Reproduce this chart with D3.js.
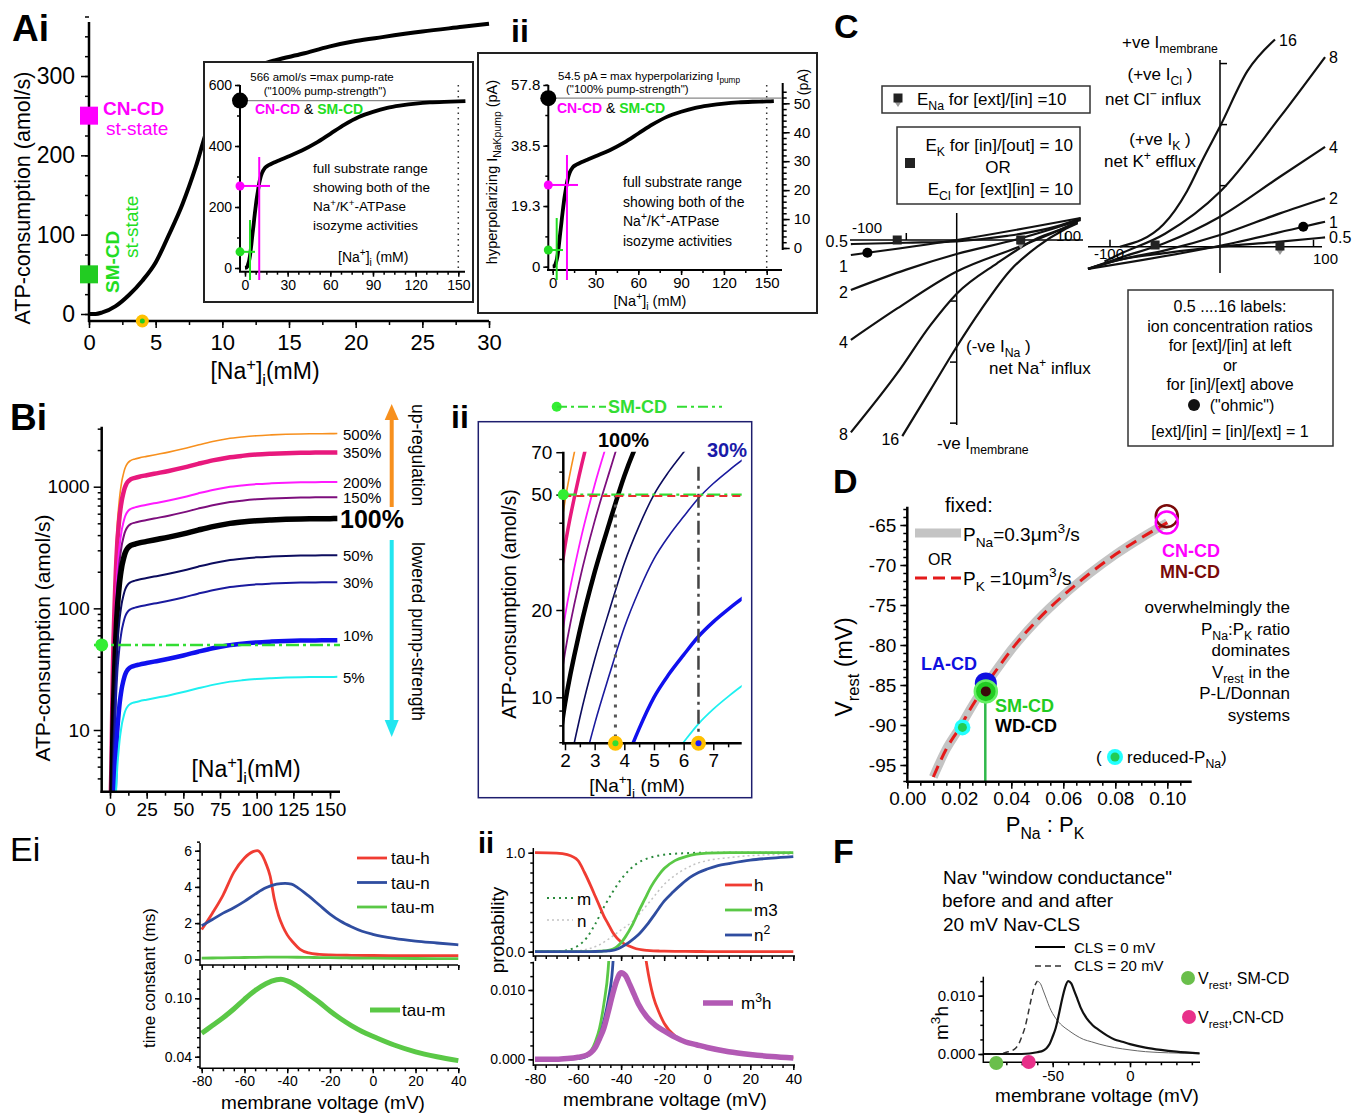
<!DOCTYPE html>
<html>
<head>
<meta charset="utf-8">
<title>Na/K pump figure</title>
<script src="https://cdn.jsdelivr.net/npm/d3@7"></script>
<style>
  body { margin: 0; background: #fff; }
  svg { font-family: "Liberation Sans", Arial, sans-serif; }
</style>
</head>
<body>
<svg id="fig" width="1355" height="1115"></svg>
<script>
// ---------- data ----------
// Ai: ATP consumption in the low [Na+]i range
const aiNa  = [0, 0.5, 1, 2, 3, 4, 5, 6, 7, 8, 9, 10, 11, 12, 13, 14, 16, 18, 20, 22, 25, 28, 30];
const aiATP = [0, 0, 2, 10, 24, 42, 65, 100, 138, 185, 240, 275, 296, 308, 315, 320, 328, 337, 344, 349, 356, 362, 366];
const aiTicksX = [0, 5, 10, 15, 20, 25, 30];
const aiTicksY = [0, 100, 200, 300];
const aiStateName = ["CN-CD", "SM-CD"];
const aiStateATP = [250, 50];
const aiOrangeNa = 4;

// full substrate range at 100 % pump strength (insets + B)
const naFull  = [0, 0.5, 1, 1.5, 2, 2.5, 3, 3.5, 4, 4.5, 5, 5.5, 6, 6.5, 7, 7.5, 8, 9, 10, 11, 12, 14, 17, 20, 25, 30, 40, 50, 60, 70, 80, 90, 100, 110, 120, 130, 140, 150, 155];
const atpFull = [0.5, 0.8, 1.5, 4, 9.5, 17, 27, 40, 58, 78, 100, 120, 140, 162, 182, 201, 220, 250, 278, 298, 312, 328, 338, 345, 355, 365, 385, 410, 440, 470, 495, 512, 525, 533, 539, 543, 545, 546, 547];
const pumpMaxAmol = 566, pumpMaxPa = 54.5;
const insetMaxATP = 549, insetMaxPa = 53.6;
const crossNa  = [10, 3.5];   // CN-CD, SM-CD (amol/s inset)
const crossATP = [269, 53];
const crossPaNa = [10, 2.8];  // (pA inset)
const crossPa   = [26, 5.3];

// B: pump strengths
const pumpPct      = [500, 350, 200, 150, 100, 50, 30, 10, 5];
const pumpColor    = ["#f7901e", "#e8197d", "#ff1aff", "#7d0e7d", "#000000", "#0c0c5e", "#1a1a9e", "#1010ee", "#1ef0f0"];
const pumpWidthBi  = [1.6, 4.5, 2, 2, 5.5, 2, 2, 4.5, 2];
const pumpWidthBii = [1.6, 3.5, 1.8, 1.8, 4.5, 1.6, 1.6, 3.5, 1.8];
const smcdATP = 50;
const biiMarkNa = [3.7, 6.5];

// C: I-V relations (mV, arbitrary current units)
const cRatio = ["0.5", "1", "2", "4", "8", "16"];
const cLeftV = [[-105, -50, 0, 50, 100, 123], [-105, 0, 123], [-105, -50, 0, 60, 123], [-105, -59, 0, 60, 106, 120], [-105, -59, -26, 0, 40, 80, 106, 120], [-54, -26, 0, 24, 53.5, 80, 106, 120]];
const cLeftI = [[-2.2, -1.5, -0.7, 2.2, 7.5, 11.7], [-8.1, 0, 11.9], [-27, -16, -7.6, 0.4, 10.8], [-54, -37, -17, -4, 6.3, 10], [-104, -72, -46, -29, -12.6, 0.9, 6.3, 9.5], [-106, -81, -57.7, -37.8, -16.2, -3.6, 5.4, 9]];
const cRightV = [[-120, -91, -50, 0, 50, 95.5], [-120, 0, 75.7, 95.5], [-120, -91, -50, 0, 54.5, 95.5], [-120, -91, -50, 0, 54.5, 95.5], [-105, -91, -50, 0, 54.5, 95.5], [-91, -51.5, -30, -15, 0, 25, 50]];
const cRightI = [[-12, -7, -3.5, 0, 2.5, 5], [-12, 0.5, 10.8, 13.5], [-12, -7, -2, 6.3, 18, 26.2], [-12, -6, 2, 16.2, 37.8, 54], [-8, -4, 7, 29.7, 70, 102.5], [0, 12, 30, 48, 65, 95, 112]];

// D: Vrest vs PNa:PK
const dRatio = [0.01, 0.015, 0.02, 0.025, 0.03, 0.035, 0.04, 0.05, 0.06, 0.07, 0.08, 0.09, 0.1];
const dVrest = [-96.5, -93, -90.4, -87.6, -85.1, -82.8, -80.6, -76.9, -73.8, -71.1, -68.7, -66.6, -64.7];
const dTicksY = [-95, -90, -85, -80, -75, -70, -65];
const dTicksX = [0, 0.02, 0.04, 0.06, 0.08, 0.10];

// Ei: time constants
const eV    = [-80, -75, -70, -65, -60, -56, -54, -52, -50, -48, -46, -44, -42, -40, -37, -34, -30, -25, -20, -10, 0, 20, 40];
const tauH  = [1.65, 2.55, 3.55, 4.8, 5.6, 5.95, 6.0, 5.8, 5.3, 4.6, 3.3, 2.4, 1.8, 1.35, 0.9, 0.55, 0.35, 0.27, 0.24, 0.22, 0.21, 0.2, 0.2];
const tauNV = [-80, -75, -70, -65, -60, -55, -50, -45, -41, -38, -35, -30, -25, -20, -15, -10, -5, 0, 10, 20, 30, 40];
const tauN  = [1.85, 2.2, 2.55, 2.85, 3.2, 3.6, 3.95, 4.15, 4.2, 4.15, 3.95, 3.5, 3.0, 2.5, 2.1, 1.8, 1.55, 1.38, 1.15, 1.0, 0.9, 0.8];
const tauMV = [-80, -75, -70, -65, -60, -55, -50, -45, -43, -40, -35, -30, -25, -20, -15, -10, -5, 0, 10, 20, 30, 40];
const tauM  = [0.064, 0.072, 0.08, 0.089, 0.099, 0.108, 0.115, 0.119, 0.1195, 0.118, 0.112, 0.104, 0.096, 0.087, 0.079, 0.072, 0.066, 0.061, 0.052, 0.045, 0.04, 0.036];

// Eii: gating probabilities
const hV  = [-80, -70, -65, -60, -57, -54, -52, -50, -48, -46, -44, -42, -40, -36, -33, -30, -28, -25, -22, -20, -15, -10, -5, 0, 10, 20, 30, 40];
const hP  = [1, 0.995, 0.98, 0.92, 0.8, 0.66, 0.56, 0.46, 0.36, 0.28, 0.2, 0.14, 0.1, 0.055, 0.03, 0.018, 0.0135, 0.009, 0.0065, 0.0052, 0.0034, 0.0026, 0.0021, 0.0017, 0.0011, 0.0007, 0.0004, 0.0002];
const m3V = [-80, -65, -60, -56, -54, -52, -50, -48, -46, -44, -42, -40, -38, -35, -32, -29, -26, -23, -20, -15, -10, -5, 0, 10, 40];
const m3P = [0, 0, 0.0002, 0.0006, 0.0012, 0.0025, 0.0045, 0.008, 0.013, 0.025, 0.05, 0.09, 0.15, 0.26, 0.4, 0.53, 0.66, 0.76, 0.84, 0.92, 0.96, 0.985, 0.995, 1, 1];
const n2V = [-80, -60, -56, -54, -52, -50, -48, -46, -44, -42, -40, -36, -32, -28, -24, -20, -16, -12, -8, -4, 0, 5, 10, 20, 30, 40];
const n2P = [0, 0.0001, 0.0004, 0.0009, 0.0018, 0.0032, 0.0055, 0.0085, 0.013, 0.025, 0.045, 0.1, 0.17, 0.27, 0.39, 0.51, 0.6, 0.68, 0.75, 0.8, 0.835, 0.87, 0.89, 0.925, 0.945, 0.96];
const mV  = [-80, -70, -65, -60, -56, -52, -48, -44, -40, -36, -32, -28, -24, -20, -10, 0, 40];
const mP  = [0, 0.003, 0.015, 0.06, 0.14, 0.28, 0.45, 0.6, 0.73, 0.83, 0.9, 0.94, 0.965, 0.98, 0.995, 1, 1];
const nV  = [-80, -60, -55, -50, -45, -40, -35, -30, -25, -20, -15, -10, -5, 0, 10, 20, 40];
const nP  = [0, 0.01, 0.03, 0.07, 0.14, 0.22, 0.3, 0.42, 0.55, 0.68, 0.77, 0.84, 0.89, 0.92, 0.95, 0.97, 0.985];
const m3hV = [-80, -70, -65, -60, -56, -54, -52, -50, -48, -46, -44, -42, -40, -38, -36, -34, -32, -28, -24, -20, -15, -10, -5, 0, 10, 20, 30, 40];
const m3hP = [0, 0, 0.0001, 0.0003, 0.0006, 0.001, 0.0017, 0.003, 0.0045, 0.0068, 0.0093, 0.0114, 0.0125, 0.0121, 0.0108, 0.0094, 0.008, 0.0061, 0.0049, 0.0041, 0.0032, 0.0025, 0.0021, 0.0017, 0.0011, 0.0007, 0.0004, 0.0002];

// F: window conductance, CLS 0 and CLS 20 mV
const fV0  = [-95, -80, -70, -60, -56, -54, -52, -50, -48, -46, -44, -42, -40, -38, -36, -34, -32, -28, -24, -20, -15, -10, -5, 0, 10, 20, 30, 45];
const fM0  = [0, 0, 0, 0.0003, 0.0006, 0.001, 0.0017, 0.003, 0.0045, 0.0068, 0.0093, 0.0114, 0.0125, 0.0121, 0.0108, 0.0094, 0.008, 0.0061, 0.0049, 0.0041, 0.0032, 0.0025, 0.0021, 0.0017, 0.0011, 0.0007, 0.0004, 0.0001];
const fV20 = [-95, -85, -80, -76, -74, -72, -70, -68, -66, -64, -62, -60, -58, -56, -54, -52, -48, -44, -40, -35, -30, -25, -20, -10, 0, 10, 25, 45];
const fM20 = [0, 0, 0.0003, 0.0006, 0.001, 0.0017, 0.003, 0.0045, 0.0068, 0.0093, 0.0114, 0.0125, 0.0121, 0.0108, 0.0094, 0.008, 0.0061, 0.0049, 0.0041, 0.0032, 0.0025, 0.0021, 0.0017, 0.0011, 0.0007, 0.0004, 0.0002, 0.0001];
const fVrest = [-86.5, -65.5];   // SM-CD, CN-CD

// ---------- helpers ----------
const svg = d3.select("#fig");
const FONT = "'Liberation Sans', Arial, sans-serif";
const MAG = "#ff00ff", GRN = "#22dd22";
const hyphen = f => d => f(d).replace("\u2212", "-");   // plain hyphen minus like the figure

// text with _{sub} and ^{sup} markup
function rich(sel, str, fs) {
  let off = 0;
  str.split(/([_^]\{[^}]*\})/).forEach(p => {
    if (!p) return;
    let target = 0, txt = p, small = false;
    if (p.startsWith("_{")) { target = fs * 0.3; txt = p.slice(2, -1); small = true; }
    else if (p.startsWith("^{")) { target = -fs * 0.4; txt = p.slice(2, -1); small = true; }
    const t = sel.append("tspan").attr("dy", target - off).text(txt);
    if (small) t.attr("font-size", fs * 0.72);
    off = target;
  });
}
function txt(x, y, s, o = {}) {
  const fs = o.fs || 16;
  const t = svg.append("text").attr("x", x).attr("y", y)
    .attr("font-size", fs).attr("fill", o.fill || "#000")
    .attr("font-weight", o.bold ? "bold" : null)
    .attr("text-anchor", o.anchor || "start");
  if (o.rot) t.attr("transform", `rotate(${o.rot},${x},${y})`);
  rich(t, s, fs);
  return t;
}
function ln(x1, y1, x2, y2, w = 1.5, stroke = "#000", dash = null) {
  const l = svg.append("line").attr("x1", x1).attr("y1", y1).attr("x2", x2).attr("y2", y2)
    .attr("stroke", stroke).attr("stroke-width", w);
  if (dash) l.attr("stroke-dasharray", dash);
  return l;
}
function box(x, y, w, h, stroke = "#000", sw = 1.5) {
  return svg.append("rect").attr("x", x).attr("y", y).attr("width", w).attr("height", h)
    .attr("fill", "#fff").attr("stroke", stroke).attr("stroke-width", sw);
}
function dot(x, y, r, fill, stroke = null, sw = 0) {
  return svg.append("circle").attr("cx", x).attr("cy", y).attr("r", r)
    .attr("fill", fill).attr("stroke", stroke).attr("stroke-width", sw);
}
function curve(xs, ys, sx, sy, stroke, w, o = {}) {
  const p = svg.append("path")
    .attr("d", d3.line().x(d => sx(d[0])).y(d => sy(d[1])).curve(o.curve || d3.curveMonotoneX)(d3.zip(xs, ys)))
    .attr("fill", "none").attr("stroke", stroke).attr("stroke-width", w)
    .attr("stroke-linejoin", "round");
  if (o.dash) p.attr("stroke-dasharray", o.dash);
  if (o.clip) p.attr("clip-path", `url(#${o.clip})`);
  return p;
}
function drawAxis(gen, tx, ty, fs, w = 1.5) {
  const g = svg.append("g").attr("transform", `translate(${tx},${ty})`).call(gen);
  g.select(".domain").remove();
  g.attr("font-family", FONT);
  g.selectAll("text").attr("font-size", fs).attr("fill", "#000");
  g.selectAll("line").attr("stroke", "#000").attr("stroke-width", w);
  return g;
}
const defs = svg.append("defs");
function clip(id, x, y, w, h) {
  defs.append("clipPath").attr("id", id).append("rect").attr("x", x).attr("y", y).attr("width", w).attr("height", h);
}
function square(x, y, s, fill) {
  return svg.append("rect").attr("x", x - s / 2).attr("y", y - s / 2).attr("width", s).attr("height", s).attr("fill", fill);
}
function eMarker(x, y) {
  svg.append("path").attr("d", `M${x - 4},${y + 2} L${x + 4},${y + 2} L${x},${y + 8} Z`).attr("fill", "#999");
  square(x, y - 1, 9, "#222");
}

// ---------- panel letters ----------
txt(12, 41, "Ai", { fs: 37, bold: true });
txt(511, 42, "ii", { fs: 32, bold: true });
txt(834, 38, "C", { fs: 34, bold: true });
txt(10, 430, "Bi", { fs: 37, bold: true });
txt(451, 428, "ii", { fs: 32, bold: true });
txt(833, 493, "D", { fs: 34, bold: true });
txt(10, 861, "Ei", { fs: 34 });
txt(478, 853, "ii", { fs: 29, bold: true });
txt(833, 863, "F", { fs: 34, bold: true });

// ================= Ai =================
const aiX = d3.scaleLinear().domain([0, 30]).range([89, 489]);
const aiY = d3.scaleLinear().domain([0, 300]).range([314, 76]);
curve(aiNa, aiATP, aiX, aiY, "#000", 4);
ln(89, 22, 89, 322, 2.5);
ln(88, 321, 489, 321, 2.5);
drawAxis(d3.axisLeft(aiY).tickValues(aiTicksY).tickSize(8).tickPadding(6), 89, 0, 23);
drawAxis(d3.axisLeft(aiY).tickValues(d3.range(-0, 376, 25)).tickSize(4).tickFormat(""), 89, 0, 0);
drawAxis(d3.axisBottom(aiX).tickValues(aiTicksX).tickSize(7).tickPadding(6), 0, 321, 22);
drawAxis(d3.axisBottom(aiX).tickValues(d3.range(0, 30.1, 2.5)).tickSize(4).tickFormat(""), 0, 321, 0);
txt(30, 198, "ATP-consumption  (amol/s)", { fs: 21.5, anchor: "middle", rot: -90 });
txt(265, 379, "[Na^{+}]_{i}(mM)", { fs: 23, anchor: "middle" });
square(aiX(0), aiY(aiStateATP[0]), 18, MAG);
square(aiX(0), aiY(aiStateATP[1]), 18, "#22cc22");
txt(103, 115, aiStateName[0], { fs: 19, bold: true, fill: MAG });
txt(106, 135, "st-state", { fs: 19, fill: MAG });
txt(119, 293, aiStateName[1], { fs: 19, bold: true, fill: GRN, rot: -90 });
txt(138, 258, "st-state", { fs: 19, fill: GRN, rot: -90 });
dot(aiX(aiOrangeNa), 321, 6.5, "#ffc000");
dot(aiX(aiOrangeNa), 321, 2.5, "#22cc22");

// ---- Ai inset (amol/s full range) ----
box(204, 62, 269, 240, "#222", 2);
const aaX = d3.scaleLinear().domain([0, 150]).range([245, 458.3]);
const aaY = d3.scaleLinear().domain([0, 600]).range([268, 85]);
ln(240, 85, 240, 272, 2);
ln(239, 271.7, 465, 271.7, 2);
drawAxis(d3.axisLeft(aaY).tickValues([0, 200, 400, 600]).tickSize(5).tickPadding(3), 240, 0, 14);
drawAxis(d3.axisLeft(aaY).tickValues(d3.range(0, 601, 100)).tickSize(3).tickFormat(""), 240, 0, 0);
drawAxis(d3.axisBottom(aaX).tickValues(d3.range(0, 151, 30)).tickSize(5).tickPadding(3), 0, 271.7, 14);
drawAxis(d3.axisBottom(aaX).tickValues(d3.range(0, 151, 7.5)).tickSize(3).tickFormat(""), 0, 271.7, 0);
ln(240, aaY(insetMaxATP), 465, aaY(insetMaxATP), 1.3, "#888");
ln(aaX(150), 85, aaX(150), 271, 1.5, "#333", "1.5,4");
curve(naFull, atpFull, aaX, aaY, "#000", 3.8);
dot(240, aaY(insetMaxATP), 8, "#000");
// CN-CD and SM-CD crosses
ln(240, aaY(crossATP[0]), 270, aaY(crossATP[0]), 2, MAG);
ln(aaX(crossNa[0]), 157, aaX(crossNa[0]), 280, 2, MAG);
dot(240, aaY(crossATP[0]), 4.5, MAG);
ln(240, aaY(crossATP[1]), 255, aaY(crossATP[1]), 2, GRN);
ln(aaX(crossNa[1]), 220, aaX(crossNa[1]), 280, 2, GRN);
dot(240, aaY(crossATP[1]), 4.5, GRN);
txt(322, 81, "566 amol/s =max pump-rate", { fs: 11.5, anchor: "middle" });
txt(325, 95, "(\"100% pump-strength\")", { fs: 11.5, anchor: "middle" });
{
  const t = svg.append("text").attr("x", 255).attr("y", 114).attr("font-size", 14).attr("font-weight", "bold");
  t.append("tspan").attr("fill", MAG).text("CN-CD");
  t.append("tspan").attr("fill", "#000").attr("font-weight", "normal").text(" & ");
  t.append("tspan").attr("fill", GRN).text("SM-CD");
}
["full substrate range", "showing both of the", "Na^{+}/K^{+}-ATPase", "isozyme activities"]
  .forEach((s, i) => txt(313, 173 + i * 19, s, { fs: 13.5 }));
txt(338, 262, "[Na^{+}]_{i} (mM)", { fs: 14 });

// ---- ii inset (pA) ----
box(478, 53, 339, 260, "#222", 2);
const pX = d3.scaleLinear().domain([0, 150]).range([552.7, 766.7]);
const pY = d3.scaleLinear().domain([0, 57.8]).range([266.7, 85]);
const pY2 = d3.scaleLinear().domain([0, 50]).range([248, 103.3]);
ln(548.3, 85, 548.3, 271, 2);
ln(547, 270, 782, 270, 2);
drawAxis(d3.axisLeft(pY).tickValues([0, 19.3, 38.5, 57.8]).tickSize(5).tickPadding(3).tickFormat(d => d === 0 ? "0" : d3.format(".1f")(d)), 548.3, 0, 15);
drawAxis(d3.axisLeft(pY).tickValues(d3.range(0, 58, 9.65)).tickSize(3).tickFormat(""), 548.3, 0, 0);
drawAxis(d3.axisBottom(pX).tickValues(d3.range(0, 151, 30)).tickSize(5).tickPadding(2), 0, 270, 15);
drawAxis(d3.axisBottom(pX).tickValues(d3.range(0, 151, 15)).tickSize(3).tickFormat(""), 0, 270, 0);
ln(782.7, 83, 782.7, 250, 2);
drawAxis(d3.axisRight(pY2).tickValues(d3.range(0, 51, 10)).tickSize(7).tickPadding(4), 782.7, 0, 15);
drawAxis(d3.axisRight(pY2).tickValues(d3.range(0, 56, 2)).tickSize(4).tickFormat(""), 782.7, 0, 0);
ln(548, pY(insetMaxPa), 782, pY(insetMaxPa), 1.3, "#888");
ln(pX(150), 85, pX(150), 269, 1.5, "#333", "1.5,4");
curve(naFull, atpFull.map(v => v * pumpMaxPa / pumpMaxAmol), pX, pY, "#000", 3.8);
dot(548.3, pY(insetMaxPa), 8, "#000");
ln(548, pY(crossPa[0]), 578, pY(crossPa[0]), 2, MAG);
ln(pX(crossPaNa[0]), 155, pX(crossPaNa[0]), 280, 2, MAG);
dot(548.3, pY(crossPa[0]), 4.5, MAG);
ln(548, pY(crossPa[1]), 563, pY(crossPa[1]), 2, GRN);
ln(pX(crossPaNa[1]), 218, pX(crossPaNa[1]), 280, 2, GRN);
dot(548.3, pY(crossPa[1]), 4.5, GRN);
txt(558, 80, "54.5 pA = max hyperpolarizing I_{pump}", { fs: 11.5 });
txt(566, 93, "(\"100% pump-strength\")", { fs: 11.5 });
{
  const t = svg.append("text").attr("x", 557).attr("y", 113).attr("font-size", 14).attr("font-weight", "bold");
  t.append("tspan").attr("fill", MAG).text("CN-CD");
  t.append("tspan").attr("fill", "#000").attr("font-weight", "normal").text(" & ");
  t.append("tspan").attr("fill", GRN).text("SM-CD");
}
["full substrate range", "showing both of the", "Na^{+}/K^{+}-ATPase", "isozyme activities"]
  .forEach((s, i) => txt(623, 187 + i * 19.5, s, { fs: 14 }));
txt(497, 172, "hyperpolarizing I_{NaKpump} (pA)", { fs: 14.5, anchor: "middle", rot: -90 });
txt(808, 82, "(pA)", { fs: 14, anchor: "middle", rot: -90 });
txt(650, 306, "[Na^{+}]_{i} (mM)", { fs: 14.5, anchor: "middle" });

// ================= C =================
const cLx = d3.scaleLinear().domain([0, 100]).range([956.7, 1057.5]);
const cLy = d3.scaleLinear().domain([0, -100]).range([240, 425]);
const cRx = d3.scaleLinear().domain([0, 100]).range([1220, 1330]);
const cRy = d3.scaleLinear().domain([0, 100]).range([246.7, 61.7]);
const cLeftLabelDy = [3, 17, 8, 8, 8, 9];
// left I-V
ln(850, 240, 1083, 240, 1.5);
ln(956.7, 213, 956.7, 425, 1.5);
[-33, -66, -99].forEach(v => ln(956.7, cLy(v), 950, cLy(v), 1.5));
[-50, 108].forEach(v => ln(cLx(v), 240, cLx(v), 233, 1.5));
cLeftV.forEach((vs, i) => curve(vs, cLeftI[i], cLx, cLy, "#111", 2.2));
cRatio.forEach((r, i) => {
  const x0 = cLx(cLeftV[i][0]), y0 = cLy(cLeftI[i][0]);
  txt(x0 - 3, y0 + cLeftLabelDy[i], r, { fs: 16, anchor: "end" });
});
txt(852, 233, "-100", { fs: 15 });
txt(1056, 241, "100", { fs: 15 });
square(cLx(-59), 240, 9, "#222");
eMarker(cLx(63.5), 241);
dot(cLx(-88.6), cLy(-6.9), 5, "#000");
// right I-V
ln(1088, 246.7, 1322, 246.7, 1.5);
ln(1220, 60, 1220, 273, 1.5);
[33, 66, 99].forEach(v => ln(1220, cRy(v), 1227, cRy(v), 1.5));
[-100, 85].forEach(v => ln(cRx(v), 246.7, cRx(v), 239.7, 1.5));
cRightV.forEach((vs, i) => curve(vs, cRightI[i], cRx, cRy, "#111", 2.2));
cRatio.forEach((r, i) => {
  const n = cRightV[i].length - 1;
  txt(cRx(cRightV[i][n]) + 4, cRy(cRightI[i][n]) + 6, r, { fs: 16 });
});
txt(1094, 259, "-100", { fs: 15 });
txt(1313, 264, "100", { fs: 15 });
square(cRx(-59), 245, 9, "#222");
eMarker(cRx(54.5), 247);
dot(cRx(75.7), cRy(10.8), 5, "#000");
// C texts
box(882, 86, 208, 27, "#333", 1.5);
eMarker(898, 99);
txt(917, 105, "E_{Na} for [ext]/[in] =10", { fs: 17 });
box(897, 127, 183, 77, "#333", 1.5);
txt(1073, 151, "E_{K} for [in]/[out] = 10", { fs: 17, anchor: "end" });
square(910, 163, 10, "#222");
txt(998, 173, "OR", { fs: 17, anchor: "middle" });
txt(1073, 195, "E_{Cl} for [ext][in] = 10", { fs: 17, anchor: "end" });
txt(1122, 48, "+ve I_{membrane}", { fs: 17 });
txt(1160, 80, "(+ve I_{Cl} )", { fs: 17, anchor: "middle" });
txt(1153, 105, "net Cl^{\u2212} influx", { fs: 17, anchor: "middle" });
txt(1160, 145, "(+ve I_{K} )", { fs: 17, anchor: "middle" });
txt(1150, 167, "net K^{+} efflux", { fs: 17, anchor: "middle" });
txt(966, 352, "(-ve I_{Na} )", { fs: 17 });
txt(989, 374, "net Na^{+} influx", { fs: 17 });
txt(937, 449, "-ve I_{membrane}", { fs: 17 });
box(1128, 290, 205, 156, "#333", 1.5);
["0.5 ....16 labels:", "ion concentration ratios", "for [ext]/[in] at left", "or", "for [in]/[ext] above"]
  .forEach((s, i) => txt(1230, 312 + i * 19.5, s, { fs: 16, anchor: "middle" }));
dot(1194, 405, 6, "#111");
txt(1242, 411, "(\"ohmic\")", { fs: 16, anchor: "middle" });
txt(1230, 437, "[ext]/[in] = [in]/[ext] = 1", { fs: 16, anchor: "middle" });

// ================= Bi =================
const bX = d3.scaleLinear().domain([0, 150]).range([110, 330]);
const bY = d3.scaleLog().domain([10, 1000]).range([730, 486.7]);
clip("clipBi", 101.7, 420, 245, 371.7);
pumpPct.forEach((p, i) => {
  curve(naFull, atpFull.map(v => v * p / 100), bX, bY, pumpColor[i], pumpWidthBi[i], { clip: "clipBi" });
});
ln(101.7, 426.7, 101.7, 793, 2.5);
ln(100.5, 791.7, 340, 791.7, 2.5);
drawAxis(d3.axisLeft(bY).tickValues([10, 100, 1000]).tickSize(8).tickPadding(4).tickFormat(d3.format("d")), 101.7, 0, 19);
const logMinor = [];
[1, 10, 100, 1000].forEach(dec => [2, 3, 4, 5, 6, 7, 8, 9].forEach(k => { if (k * dec > 3.1 && k * dec < 3100) logMinor.push(k * dec); }));
drawAxis(d3.axisLeft(bY).tickValues(logMinor).tickSize(4).tickFormat(""), 101.7, 0, 0);
drawAxis(d3.axisBottom(bX).tickValues(d3.range(0, 151, 25)).tickSize(7).tickPadding(4), 0, 791.7, 19);
drawAxis(d3.axisBottom(bX).tickValues(d3.range(0, 151, 12.5)).tickSize(4).tickFormat(""), 0, 791.7, 0);
pumpPct.forEach((p, i) => {
  const endV = atpFull[atpFull.length - 1] * p / 100;
  if (p === 100) txt(340, bY(endV) + 9, "100%", { fs: 25, bold: true });
  else txt(343, bY(endV) + (p === 10 ? 1 : 6), p + "%", { fs: 15 });
});
ln(94, bY(smcdATP), 340, bY(smcdATP), 2.5, "#33dd33", "13,4,3,4");
dot(101.7, bY(smcdATP), 6.5, "#33ee33");
// arrows
ln(391.7, 507, 391.7, 418, 4, "#f7901e");
svg.append("path").attr("d", "M384.7,420 L398.7,420 L391.7,404 Z").attr("fill", "#f7901e");
ln(391.7, 540, 391.7, 722, 4, "#22e6f0");
svg.append("path").attr("d", "M384.7,720 L398.7,720 L391.7,737 Z").attr("fill", "#22e6f0");
txt(412, 404, "up-regulation", { fs: 17.5, rot: 90 });
txt(412, 542, "lowered pump-strength", { fs: 17.5, rot: 90 });
txt(50, 638, "ATP-consumption  (amol/s)", { fs: 21, anchor: "middle", rot: -90 });
txt(246, 777, "[Na^{+}]_{i}(mM)", { fs: 23, anchor: "middle" });

// ================= Bii =================
box(478.3, 421.7, 273.4, 376, "#1e1e6e", 1.5);
const bbX = d3.scaleLinear().domain([2, 7]).range([565, 713.3]);
const bbY = d3.scaleLog().domain([10, 20]).range([697.3, 610]);
clip("clipBii", 563.3, 451.7, 178.4, 291.6);
pumpPct.forEach((p, i) => {
  curve(naFull, atpFull.map(v => v * p / 100), bbX, bbY, pumpColor[i], pumpWidthBii[i], { clip: "clipBii" });
});
ln(bbX(biiMarkNa[0]), bbY(smcdATP), bbX(biiMarkNa[0]), 743, 3, "#555", "3,7");
ln(bbX(biiMarkNa[1]), 466.7, bbX(biiMarkNa[1]), 743, 2.5, "#444", "14,5,3,5");
ln(563.3, bbY(smcdATP), 741.7, bbY(smcdATP), 2.2, "#33dd33", "13,4,3,4");
ln(563.3, bbY(smcdATP) + 1.5, 741.7, bbY(smcdATP) + 1.5, 2, "#e83030", "8,5");
ln(563.3, 451.7, 563.3, 744.5, 2.5);
ln(562, 743.3, 741.7, 743.3, 2.5);
drawAxis(d3.axisLeft(bbY).tickValues([10, 20, 50, 70]).tickSize(7).tickPadding(4).tickFormat(d3.format("d")), 563.3, 0, 19);
drawAxis(d3.axisLeft(bbY).tickValues([7, 8, 9, 30, 40, 60]).tickSize(4).tickFormat(""), 563.3, 0, 0);
drawAxis(d3.axisBottom(bbX).tickValues(d3.range(2, 8, 1)).tickSize(7).tickPadding(3).tickFormat(d3.format("d")), 0, 743.3, 19);
drawAxis(d3.axisBottom(bbX).tickValues(d3.range(2.5, 8, 1)).tickSize(4).tickFormat(""), 0, 743.3, 0);
dot(563.3, bbY(smcdATP), 5.5, "#33ee33");
biiMarkNa.forEach((n, i) => {
  dot(bbX(n), 743.3, 7.5, "#ffc000");
  dot(bbX(n), 743.3, 3, i === 0 ? "#33dd33" : "#1a1aff");
});
txt(598, 447, "100%", { fs: 20, bold: true });
txt(707, 457, "30%", { fs: 20, bold: true, fill: "#1a1aa8" });
txt(516, 604, "ATP-consumption (amol/s)", { fs: 19.5, anchor: "middle", rot: -90 });
txt(637, 792, "[Na^{+}]_{i} (mM)", { fs: 19, anchor: "middle" });
dot(556.7, 406.7, 5, "#33ee33");
ln(557, 406.7, 606, 406.7, 2, "#33dd33", "10,4,3,4");
txt(608, 413, "SM-CD", { fs: 18, bold: true, fill: "#33dd33" });
ln(677, 406.7, 722, 406.7, 2, "#33dd33", "10,4,3,4");

// ================= D =================
const dX = d3.scaleLinear().domain([0, 0.10]).range([907.3, 1167.3]);
const dY = d3.scaleLinear().domain([-95, -65]).range([765, 525]);
curve(dRatio, dVrest, dX, dY, "#c4c4c4", 9);
curve(dRatio, dVrest, dX, dY, "#e41a1a", 3, { dash: "12,7" });
ln(dX(0.03), dY(-85.8), dX(0.03), 781.7, 2.5, "#2fb84a");
dot(dX(0.0998), dY(-63.9), 11, "none", "#7a0a0a", 2.5);
dot(dX(0.0998), dY(-64.7), 11, "none", MAG, 2.5);
dot(dX(0.0302), dY(-84.8), 11, "#1010e0");
dot(dX(0.0302), dY(-85.8), 11, "#22cc22", "#66f066", 2.5);
dot(dX(0.0302), dY(-85.8), 5, "#3a0a0a");
dot(dX(0.0212), dY(-90.3), 8, "#22ffff");
dot(dX(0.0212), dY(-90.3), 4.5, "#22cc55");
ln(907.3, 506.7, 907.3, 783, 2.5);
ln(906, 781.7, 1191.7, 781.7, 2.5);
drawAxis(d3.axisLeft(dY).tickValues(dTicksY).tickSize(7).tickPadding(4).tickFormat(hyphen(d3.format("d"))), 907.3, 0, 19);
drawAxis(d3.axisLeft(dY).tickValues(d3.range(-97, -62, 1)).tickSize(4).tickFormat(""), 907.3, 0, 0);
drawAxis(d3.axisBottom(dX).tickValues(dTicksX).tickSize(7).tickPadding(3).tickFormat(d3.format(".2f")), 0, 781.7, 19);
drawAxis(d3.axisBottom(dX).tickValues(d3.range(0, 0.1095, 0.005)).tickSize(4).tickFormat(""), 0, 781.7, 0);
txt(852, 667, "V_{rest} (mV)", { fs: 23, anchor: "middle", rot: -90 });
txt(1045, 832, "P_{Na} : P_{K}", { fs: 22, anchor: "middle" });
txt(945, 512, "fixed:", { fs: 20 });
ln(915, 533, 961, 533, 9, "#c4c4c4");
txt(963, 541, "P_{Na}=0.3\u03bcm^{3}/s", { fs: 19 });
txt(928, 565, "OR", { fs: 16 });
ln(915, 578, 961, 578, 3, "#e41a1a", "12,6");
txt(963, 585, "P_{K} =10\u03bcm^{3}/s", { fs: 19 });
txt(1162, 557, "CN-CD", { fs: 18, bold: true, fill: MAG });
txt(1160, 578, "MN-CD", { fs: 18, bold: true, fill: "#7a0a0a" });
txt(921, 670, "LA-CD", { fs: 18, bold: true, fill: "#1010e0" });
txt(995, 712, "SM-CD", { fs: 18, bold: true, fill: "#22cc22" });
txt(995, 732, "WD-CD", { fs: 18, bold: true });
["overwhelmingly the", "P_{Na}:P_{K} ratio", "dominates", "V_{rest} in the", "P-L/Donnan", "systems"]
  .forEach((s, i) => txt(1290, 613 + i * 21.5, s, { fs: 17, anchor: "end" }));
txt(1096, 763, "(", { fs: 17 });
dot(1115, 757, 8, "#22ffff");
dot(1115, 757, 4.5, "#22cc55");
txt(1127, 763, "reduced-P_{Na})", { fs: 17 });

// ================= Ei =================
const eX = d3.scaleLinear().domain([-80, 40]).range([201.7, 458.3]);
const eY1 = d3.scaleLinear().domain([0, 6]).range([959.3, 850.7]);
const eY2 = d3.scaleLinear().domain([0.04, 0.10]).range([1056.7, 998.3]);
clip("clipEi2", 200, 968, 262, 101);
curve(eV, tauH, eX, eY1, "#f03c32", 2.8);
curve(tauNV, tauN, eX, eY1, "#2f4da0", 2.8);
curve(tauMV, tauM, eX, eY1, "#5ac846", 2.8);
curve(tauMV, tauM, eX, eY2, "#5ac846", 5, { clip: "clipEi2" });
ln(200, 843, 200, 966, 1.5);
ln(200, 965, 458, 965, 1.5);
ln(200, 970, 200, 1069, 1.5);
ln(200, 1068.3, 458, 1068.3, 1.5);
drawAxis(d3.axisLeft(eY1).tickValues([0, 2, 4, 6]).tickSize(5).tickPadding(3).tickFormat(d3.format("d")), 200, 0, 14);
drawAxis(d3.axisLeft(eY1).tickValues(d3.range(0, 6.6, 0.5)).tickSize(3).tickFormat(""), 200, 0, 0);
drawAxis(d3.axisLeft(eY2).tickValues([0.04, 0.10]).tickSize(5).tickPadding(3).tickFormat(d3.format(".2f")), 200, 0, 14);
drawAxis(d3.axisLeft(eY2).tickValues(d3.range(0.03, 0.125, 0.01)).tickSize(3).tickFormat(""), 200, 0, 0);
drawAxis(d3.axisBottom(eX).tickValues(d3.range(-80, 41, 20)).tickSize(5).tickFormat(""), 0, 965, 0);
drawAxis(d3.axisBottom(eX).tickValues(d3.range(-80, 41, 5)).tickSize(3).tickFormat(""), 0, 965, 0);
drawAxis(d3.axisBottom(eX).tickValues(d3.range(-80, 41, 20)).tickSize(5).tickPadding(3).tickFormat(hyphen(d3.format("d"))), 0, 1068.3, 14);
drawAxis(d3.axisBottom(eX).tickValues(d3.range(-80, 41, 5)).tickSize(3).tickFormat(""), 0, 1068.3, 0);
[["tau-h", "#f03c32"], ["tau-n", "#2f4da0"], ["tau-m", "#5ac846"]].forEach(([s, c], i) => {
  ln(357, 858 + i * 24.5, 387, 858 + i * 24.5, 2.8, c);
  txt(391, 864 + i * 24.5, s, { fs: 17 });
});
ln(370, 1010, 400, 1010, 5, "#5ac846");
txt(402, 1016, "tau-m", { fs: 17 });
txt(155, 978, "time constant  (ms)", { fs: 17, anchor: "middle", rot: -90 });
txt(323, 1109, "membrane voltage (mV)", { fs: 19, anchor: "middle" });

// ================= Eii =================
const e2X = d3.scaleLinear().domain([-80, 40]).range([535, 793.3]);
const e2Y1 = d3.scaleLinear().domain([0, 1]).range([951.7, 852.7]);
const e2Y2 = d3.scaleLinear().domain([0, 0.01]).range([1059.3, 990]);
clip("clipEii2", 533, 961, 264, 104);
curve(mV, mP, e2X, e2Y1, "#2a8a3c", 2, { dash: "2,4" });
curve(nV, nP, e2X, e2Y1, "#c4c4c4", 1.5, { dash: "2,3" });
curve(hV, hP, e2X, e2Y1, "#f03c32", 2.8);
curve(m3V, m3P, e2X, e2Y1, "#5ac846", 2.8);
curve(n2V, n2P, e2X, e2Y1, "#2f4da0", 2.8);
curve(hV, hP, e2X, e2Y2, "#f03c32", 2.8, { clip: "clipEii2" });
curve(m3V, m3P, e2X, e2Y2, "#5ac846", 2.8, { clip: "clipEii2" });
curve(n2V, n2P, e2X, e2Y2, "#2f4da0", 2.8, { clip: "clipEii2" });
curve(m3hV, m3hP, e2X, e2Y2, "#b25ab4", 5.5, { clip: "clipEii2" });
ln(533.3, 848, 533.3, 957, 1.5);
ln(533.3, 956, 795, 956, 1.5);
ln(533.3, 961.7, 533.3, 1066, 1.5);
ln(533.3, 1065, 795, 1065, 1.5);
drawAxis(d3.axisLeft(e2Y1).tickValues([0, 1]).tickSize(5).tickPadding(3).tickFormat(d3.format(".1f")), 533.3, 0, 14);
drawAxis(d3.axisLeft(e2Y1).tickValues(d3.range(0, 1.01, 0.1)).tickSize(3).tickFormat(""), 533.3, 0, 0);
drawAxis(d3.axisLeft(e2Y2).tickValues([0, 0.01]).tickSize(5).tickPadding(3).tickFormat(d3.format(".3f")), 533.3, 0, 14);
drawAxis(d3.axisLeft(e2Y2).tickValues(d3.range(0, 0.0141, 0.002)).tickSize(3).tickFormat(""), 533.3, 0, 0);
drawAxis(d3.axisBottom(e2X).tickValues(d3.range(-80, 41, 20)).tickSize(5).tickFormat(""), 0, 956, 0);
drawAxis(d3.axisBottom(e2X).tickValues(d3.range(-80, 41, 5)).tickSize(3).tickFormat(""), 0, 956, 0);
drawAxis(d3.axisBottom(e2X).tickValues(d3.range(-80, 41, 20)).tickSize(5).tickPadding(3).tickFormat(hyphen(d3.format("d"))), 0, 1065, 15);
drawAxis(d3.axisBottom(e2X).tickValues(d3.range(-80, 41, 5)).tickSize(3).tickFormat(""), 0, 1065, 0);
ln(547, 898, 573, 898, 2, "#2a8a3c", "2,4");
txt(577, 905, "m", { fs: 17 });
ln(547, 920, 573, 920, 1.5, "#c4c4c4", "2,3");
txt(577, 927, "n", { fs: 17 });
[["h", "#f03c32"], ["m3", "#5ac846"], ["n^{2}", "#2f4da0"]].forEach(([s, c], i) => {
  ln(725, 885 + i * 25, 752, 885 + i * 25, 2.8, c);
  txt(754, 891 + i * 25, s, { fs: 17 });
});
ln(703, 1003, 733, 1003, 5.5, "#b25ab4");
txt(741, 1009, "m^{3}h", { fs: 17 });
txt(504, 930, "probability", { fs: 19, anchor: "middle", rot: -90 });
txt(665, 1106, "membrane voltage (mV)", { fs: 19, anchor: "middle" });

// ================= F =================
const fX = d3.scaleLinear().domain([-50, 0]).range([1052.7, 1130]);
const fY = d3.scaleLinear().domain([0, 0.01]).range([1054, 995.7]);
curve(fV20.filter(v => v <= -60), fM20.filter((m, i) => fV20[i] <= -60), fX, fY, "#333", 1.5, { dash: "6,4" });
curve(fV20.filter(v => v >= -60), fM20.filter((m, i) => fV20[i] >= -60), fX, fY, "#666", 1);
curve(fV0, fM0, fX, fY, "#111", 2.2);
ln(983.3, 976.7, 983.3, 1063, 1.5);
ln(983.3, 1062.3, 1200, 1062.3, 1.5);
drawAxis(d3.axisLeft(fY).tickValues([0, 0.01]).tickSize(5).tickPadding(3).tickFormat(d3.format(".3f")), 983.3, 0, 15);
drawAxis(d3.axisLeft(fY).tickValues(d3.range(0, 0.0131, 0.0025)).tickSize(3).tickFormat(""), 983.3, 0, 0);
drawAxis(d3.axisBottom(fX).tickValues([-50, 0]).tickSize(5).tickPadding(3).tickFormat(hyphen(d3.format("d"))), 0, 1062.3, 15);
drawAxis(d3.axisBottom(fX).tickValues(d3.range(-90, 41, 10)).tickSize(3).tickFormat(""), 0, 1062.3, 0);
dot(fX(fVrest[0]), 1063, 7, "#6abf4b");
dot(fX(fVrest[1]), 1062, 7, "#e8308a");
txt(943, 884, "Nav \"window conductance\"", { fs: 19 });
txt(942, 907, "before and and after", { fs: 19 });
txt(943, 931, "20 mV Nav-CLS", { fs: 19 });
ln(1035, 947, 1065, 947, 2);
txt(1074, 953, "CLS = 0 mV", { fs: 15 });
ln(1035, 966, 1065, 966, 1.5, "#333", "6,4");
txt(1074, 971, "CLS = 20 mV", { fs: 15 });
dot(1188, 978, 7, "#6abf4b");
txt(1198, 984, "V_{rest}, SM-CD", { fs: 16 });
dot(1189, 1017, 7, "#e8308a");
txt(1198, 1023, "V_{rest},CN-CD", { fs: 16 });
txt(948, 1023, "m^{3}h", { fs: 19, anchor: "middle", rot: -90 });
txt(1097, 1102, "membrane voltage (mV)", { fs: 19, anchor: "middle" });
</script>
</body>
</html>
